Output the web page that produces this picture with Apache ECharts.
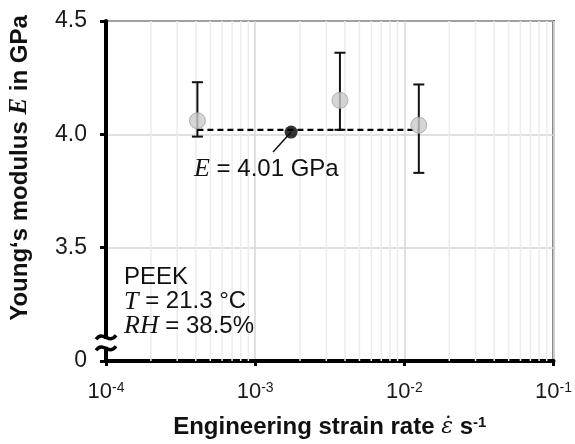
<!DOCTYPE html>
<html>
<head>
<meta charset="utf-8">
<script src="https://cdn.jsdelivr.net/npm/echarts@6/dist/echarts.min.js"></script>
<style>
  html, body { margin: 0; padding: 0; background: #fff; }
  #chart { width: 575px; height: 444px; }
</style>
</head>
<body>
<div id="chart"></div>
<script>
// measured strain rates (1/s) and Young's modulus (GPa)
const rates = [4.1e-4, 3.7e-3, 1.25e-2];
const moduli = [4.06, 4.15, 4.04];
const errLow = [3.99, 4.02, 3.83];
const errHigh = [4.23, 4.36, 4.22];

// mean value and the dashed mean line
const meanRate = [1.74e-3];
const meanModulus = [4.01];
const meanLineX = [4.1e-4, 1.25e-2];
const meanLineY = [4.02, 4.02];

// axis ticks (y axis is broken: bottom value 3.0 is labelled 0)
const yTickValues = [3.0, 3.5, 4.0, 4.5];
const yTickLabels = ['0', '3.5', '4.0', '4.5'];
const xExponents = [-4, -3, -2, -1];

const infoLines = ['PEEK', '{i|T} = 21.3 °C', '{i|RH} = 38.5%'];
const meanLabel = '{i|E} = 4.01 GPa';

const SANS = '"Liberation Sans", Arial, sans-serif';
const SERIF = '"Liberation Serif", "Times New Roman", serif';

// minor log grid lines at 2..9 x 10^k
const minorGrid = [];
for (let k = xExponents[0]; k < xExponents[xExponents.length - 1]; k++) {
  for (let m = 2; m <= 9; m++) minorGrid.push(m * Math.pow(10, k));
}

const chart = echarts.init(document.getElementById('chart'));

chart.setOption({
  animation: false,
  textStyle: { fontFamily: SANS },
  grid: {
    left: 106,
    right: 18,
    top: 21,
    bottom: 81,
    show: true,
    borderColor: '#000',
    borderWidth: 2,
    backgroundColor: 'transparent'
  },
  xAxis: {
    type: 'log',
    logBase: 10,
    min: Math.pow(10, xExponents[0]),
    max: Math.pow(10, xExponents[xExponents.length - 1]),
    name: 'Engineering strain rate {e|\u03B5\u0307} s{s|-1}',
    nameLocation: 'middle',
    nameGap: 54,
    nameTextStyle: {
      color: '#111',
      fontSize: 24,
      fontWeight: 'bold',
      fontFamily: SANS,
      rich: {
        e: { fontFamily: '"DejaVu Serif", serif', fontStyle: 'italic', fontWeight: 'normal', fontSize: 22, color: '#111' },
        s: { fontSize: 15, fontWeight: 'bold', verticalAlign: 'top', color: '#111', fontFamily: SANS }
      }
    },
    axisLine: { lineStyle: { color: '#000', width: 4 } },
    axisTick: { inside: false, length: 5, lineStyle: { color: '#000', width: 3 } },
    axisLabel: {
      color: '#1a1a1a',
      fontSize: 22,
      margin: 20,
      formatter: (v) => {
        const e = Math.round(Math.log10(v));
        return '10{s|' + e + '}';
      },
      rich: {
        s: { fontSize: 14, verticalAlign: 'top', color: '#1a1a1a', fontFamily: SANS }
      }
    },
    splitLine: { show: true, lineStyle: { color: '#d6d6d6', width: 1.5 } }
  },
  yAxis: {
    type: 'value',
    min: yTickValues[0],
    max: yTickValues[yTickValues.length - 1],
    interval: 0.5,
    axisLine: { show: true, lineStyle: { color: '#000', width: 4 } },
    axisTick: { show: true, inside: false, length: 6, lineStyle: { color: '#000', width: 3 } },
    axisLabel: {
      color: '#1a1a1a',
      fontSize: 23,
      margin: 19,
      formatter: (v) => {
        const i = yTickValues.findIndex(t => Math.abs(t - v) < 1e-6);
        return i >= 0 ? yTickLabels[i] : '';
      }
    },
    splitLine: { show: true, lineStyle: { color: '#d6d6d6', width: 1.5 } }
  },
  series: [
    {
      // minor vertical grid lines of the log axis
      type: 'custom',
      silent: true,
      data: minorGrid.map(v => [v, yTickValues[0]]),
      encode: { x: 0, y: 1 },
      renderItem: (params, api) => {
        const cs = params.coordSys;
        const x = api.coord([api.value(0), api.value(1)])[0];
        return {
          type: 'line',
          shape: { x1: x, y1: cs.y, x2: x, y2: cs.y + cs.height },
          style: { stroke: '#ececec', lineWidth: 1.5 }
        };
      },
      z: 1
    },
    {
      type: 'line',
      data: meanLineX.map((x, i) => [x, meanLineY[i]]),
      showSymbol: false,
      lineStyle: { color: '#000', width: 2.2, type: [6, 4] },
      z: 3
    },
    {
      type: 'custom',
      data: rates.map((x, i) => [x, errLow[i], errHigh[i]]),
      encode: { x: 0, y: [1, 2] },
      renderItem: (params, api) => {
        const lo = api.coord([api.value(0), api.value(1)]);
        const hi = api.coord([api.value(0), api.value(2)]);
        const cap = 5.5;
        const style = { stroke: '#111', lineWidth: 2 };
        return {
          type: 'group',
          children: [
            { type: 'line', shape: { x1: lo[0], y1: lo[1], x2: hi[0], y2: hi[1] }, style },
            { type: 'line', shape: { x1: hi[0] - cap, y1: hi[1], x2: hi[0] + cap, y2: hi[1] }, style },
            { type: 'line', shape: { x1: lo[0] - cap, y1: lo[1], x2: lo[0] + cap, y2: lo[1] }, style }
          ]
        };
      },
      z: 4
    },
    {
      type: 'scatter',
      data: rates.map((x, i) => [x, moduli[i]]),
      symbolSize: 16,
      itemStyle: { color: '#cbcbcb', borderColor: '#a0a0a0', borderWidth: 1 },
      z: 5
    },
    {
      type: 'scatter',
      data: meanRate.map((x, i) => [x, meanModulus[i]]),
      symbolSize: 13,
      itemStyle: { color: '#000' },
      z: 6
    }
  ]
});

// annotations: broken-axis mark, mean label, material info, y title
const brk = chart.convertToPixel({ gridIndex: 0 }, [Math.pow(10, xExponents[0]), 3.08]);
const dot = chart.convertToPixel({ gridIndex: 0 }, [meanRate[0], meanModulus[0]]);
const wave = (cy) => ({
  type: 'bezierCurve',
  shape: {
    x1: brk[0] - 10, y1: cy + 2,
    cpx1: brk[0] - 3, cpy1: cy - 8,
    cpx2: brk[0] + 3, cpy2: cy + 8,
    x2: brk[0] + 10, y2: cy - 2
  },
  style: { stroke: '#000', lineWidth: 3.5, fill: null },
  z: 100
});

const richItalic = { i: { fontFamily: SERIF, fontStyle: 'italic', fontSize: 26, fill: '#111' } };

chart.setOption({
  graphic: [
    {
      type: 'rect',
      shape: { x: brk[0] - 5, y: brk[1] - 4, width: 10, height: 8 },
      style: { fill: '#fff' },
      z: 99
    },
    wave(brk[1] - 5.5),
    wave(brk[1] + 5.5),
    {
      type: 'line',
      shape: { x1: dot[0], y1: dot[1], x2: dot[0] - 18, y2: dot[1] + 20 },
      style: { stroke: '#111', lineWidth: 1.5 },
      z: 50
    },
    {
      type: 'text',
      x: dot[0] - 97,
      y: dot[1] + 37,
      style: {
        text: meanLabel,
        fontSize: 24,
        fontFamily: SANS,
        fill: '#111',
        verticalAlign: 'middle',
        rich: richItalic
      },
      z: 50
    },
    {
      type: 'text',
      x: 124,
      y: 265,
      style: {
        text: infoLines.join('\n'),
        fontSize: 24,
        fontFamily: SANS,
        lineHeight: 24.5,
        fill: '#111',
        rich: richItalic
      },
      z: 50
    },
    {
      type: 'text',
      x: 20,
      y: 168,
      rotation: Math.PI / 2,
      style: {
        text: 'Young\u2018s modulus {e|E} in GPa',
        fontSize: 24,
        fontWeight: 'bold',
        fontFamily: SANS,
        fill: '#111',
        align: 'center',
        verticalAlign: 'middle',
        rich: {
          e: { fontFamily: SERIF, fontStyle: 'italic', fontWeight: 'bold', fontSize: 25, fill: '#111' }
        }
      },
      z: 50
    }
  ]
});
</script>
</body>
</html>
